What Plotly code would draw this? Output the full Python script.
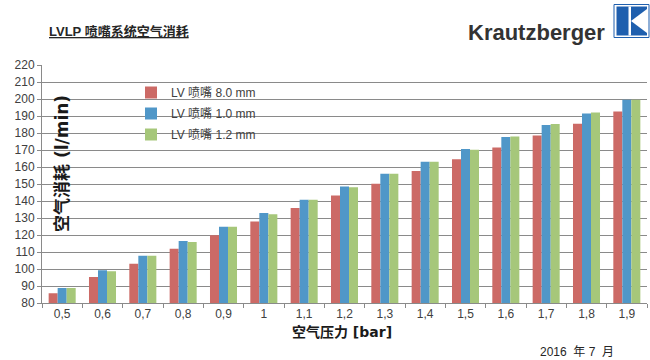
import plotly.graph_objects as go

categories = ["0,5", "0,6", "0,7", "0,8", "0,9", "1", "1,1", "1,2", "1,3", "1,4", "1,5", "1,6", "1,7", "1,8", "1,9"]
series_names = ["LV 喷嘴 8.0 mm", "LV 喷嘴 1.0 mm", "LV 喷嘴 1.2 mm"]
red_vals = [85.8, 95.3, 103.1, 111.9, 119.8, 128.0, 135.9, 143.3, 150.2, 157.7, 164.5, 171.4, 178.6, 185.5, 192.6]
blue_vals = [88.8, 99.3, 107.8, 116.4, 124.8, 132.9, 140.8, 148.6, 156.1, 163.1, 170.6, 177.6, 184.7, 191.4, 199.5]
green_vals = [88.8, 98.7, 107.8, 115.9, 124.8, 132.2, 140.8, 148.1, 156.1, 163.1, 170.2, 178.0, 185.3, 192.0, 199.5]
colors = ["#CC6A66", "#5097C8", "#A6C77A"]

W, H = 650, 360
ML, MR, MT, MB = 42, 3, 65, 57
PW, PH = W - ML - MR, H - MT - MB


def px(x):
    return (x - ML) / PW


def py(y):
    return (H - MB - y) / PH


fig = go.Figure()
for name, vals, col in zip(series_names, [red_vals, blue_vals, green_vals], colors):
    fig.add_trace(go.Bar(x=categories, y=vals, name=name, marker_color=col,
                         marker_line_width=0, legendgroup=name))

text_col = "#404040"
grid_col = "#8A8A8A"

fig.update_layout(
    width=W, height=H,
    margin=dict(l=ML, r=MR, t=MT, b=MB, pad=0),
    paper_bgcolor="white", plot_bgcolor="white",
    barmode="group", bargap=0.33, bargroupgap=0,
    font=dict(family="Liberation Sans, Arial, Noto Sans CJK SC", size=12, color=text_col),
    showlegend=True,
    legend=dict(x=px(131), y=py(78), xanchor="left", yanchor="top",
                bgcolor="rgba(0,0,0,0)", borderwidth=0, tracegroupgap=2,
                font=dict(size=12, color=text_col, family="Liberation Sans, Arial, Noto Sans CJK SC"),
                itemwidth=30),
    xaxis=dict(type="category", showgrid=False, showline=True, linecolor=grid_col, linewidth=1,
               ticks="outside", tickson="boundaries", ticklen=4, tickcolor=grid_col,
               tickfont=dict(size=12, color=text_col)),
    yaxis=dict(range=[80, 220], dtick=10, tick0=80, showgrid=True, gridcolor=grid_col, gridwidth=1,
               showline=True, linecolor=grid_col, linewidth=1, ticks="outside", ticklen=4,
               tickcolor=grid_col, tickfont=dict(size=12, color=text_col), zeroline=False),
)

shapes = [
    # white backing behind legend (covers gridlines)
    dict(type="rect", xref="paper", yref="paper", x0=px(137), x1=px(292), y0=py(145), y1=py(84),
         fillcolor="white", line_width=0, layer="between"),
    # logo
    dict(type="rect", xref="paper", yref="paper", x0=px(614), x1=px(649), y0=py(37.5), y1=py(4.5),
         fillcolor="white", line=dict(color="#1F5FAE", width=1)),
    dict(type="rect", xref="paper", yref="paper", x0=px(616.5), x1=px(647), y0=py(35.5), y1=py(6.5),
         fillcolor="#1F5FAE", line_width=0),
    dict(type="rect", xref="paper", yref="paper", x0=px(628.5), x1=px(631), y0=py(35.5), y1=py(6.5),
         fillcolor="white", line_width=0),
    dict(type="path", xref="paper", yref="paper",
         path=f"M {px(631)},{py(21)} L {px(647)},{py(9)} L {px(647)},{py(33)} Z",
         fillcolor="white", line_width=0),
]
fig.update_layout(shapes=shapes)

annotations = [
    dict(text="<b><u>LVLP 喷嘴系统空气消耗</u></b>", xref="paper", yref="paper", x=px(47), y=py(31),
         xanchor="left", yanchor="middle", showarrow=False,
         font=dict(size=13, color="#262626", family="Liberation Sans, Arial, Noto Sans CJK SC")),
    dict(text="<b>Krautzberger</b>", xref="paper", yref="paper", x=px(607), y=py(32),
         xanchor="right", yanchor="middle", showarrow=False,
         font=dict(size=22, color="#333333", family="Liberation Sans, Arial")),
    dict(text="<b>空气消耗 (l/min)</b>", xref="paper", yref="paper", x=px(62), y=py(164),
         xanchor="center", yanchor="middle", textangle=-90, showarrow=False,
         font=dict(size=17, color="#1a1a1a", family="DejaVu Sans, Noto Sans CJK SC")),
    dict(text="<b>空气压力 [bar]</b>", xref="paper", yref="paper", x=px(342), y=py(332),
         xanchor="center", yanchor="middle", showarrow=False,
         font=dict(size=14, color="#1a1a1a", family="DejaVu Sans, Noto Sans CJK SC")),
    dict(text="2016  年 7  月", xref="paper", yref="paper", x=px(577), y=py(352),
         xanchor="center", yanchor="middle", showarrow=False,
         font=dict(size=12, color="#262626", family="Liberation Sans, Arial, Noto Sans CJK SC")),
]
fig.update_layout(annotations=annotations)

fig.write_html("out.html")
